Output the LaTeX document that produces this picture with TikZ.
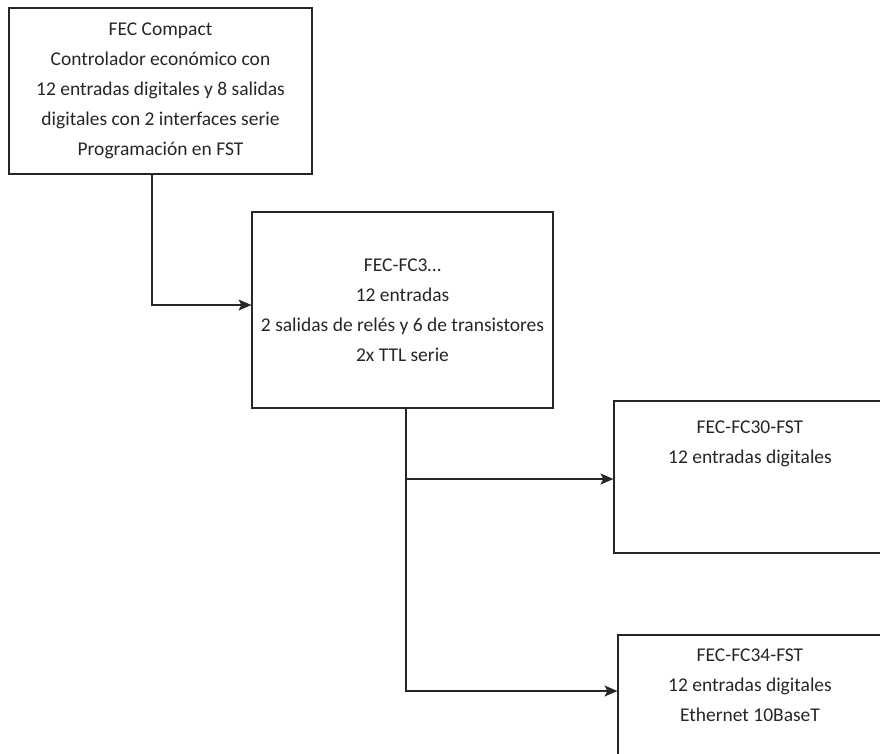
\documentclass[tikz,border=0pt]{standalone}
\usepackage{fontspec}
\setmainfont{Carlito}
\usepackage{tikz}
\usetikzlibrary{positioning}
\usetikzlibrary{arrows.meta}

\begin{document}
\begin{tikzpicture}[x=1pt, y=1pt,
        unit/.style={draw=black!85, line width=1.1pt, align=center, text=black!85,
            font=\fontsize{19.5}{30}\selectfont, inner sep=0pt},
        toptext/.style={anchor=north, align=center, text=black!85,
            font=\fontsize{19.5}{30}\selectfont},
        flow/.style={draw=black!85, line width=1.1pt, -{Stealth[length=13pt, width=11pt, inset=3pt]}}]
    \clip (0,0) rectangle (880,-753);
    \node[unit, minimum width=303pt, minimum height=166pt] (compact) at (160.5,-91)
        {FEC Compact\\Controlador económico con\\12 entradas digitales y 8 salidas\\digitales con 2 interfaces serie\\Programación en FST};
    \node[unit, minimum width=301pt, minimum height=196pt] (fc3) at (402.5,-310)
        {FEC-FC3…\\12 entradas\\2 salidas de relés y 6 de transistores\\2x TTL serie};
    \node[unit, minimum width=272pt, minimum height=152pt,
        label={[toptext, yshift=-16.5pt]north:FEC-FC30-FST\\12 entradas digitales}] (fc30) at (750,-477) {};
    \node[unit, minimum width=264pt, minimum height=150pt,
        label={[toptext, yshift=-10.5pt]north:FEC-FC34-FST\\12 entradas digitales\\Ethernet 10BaseT}] (fc34) at (750,-710) {};
    \draw[flow] ([xshift=-8.5pt]compact.south) |- ([yshift=5pt]fc3.west);
    \draw[flow] ([xshift=3.5pt]fc3.south) |- ([yshift=-2pt]fc30.west);
    \draw[flow] ([xshift=3.5pt]fc3.south) |- ([yshift=19pt]fc34.west);
\end{tikzpicture}
\end{document}
